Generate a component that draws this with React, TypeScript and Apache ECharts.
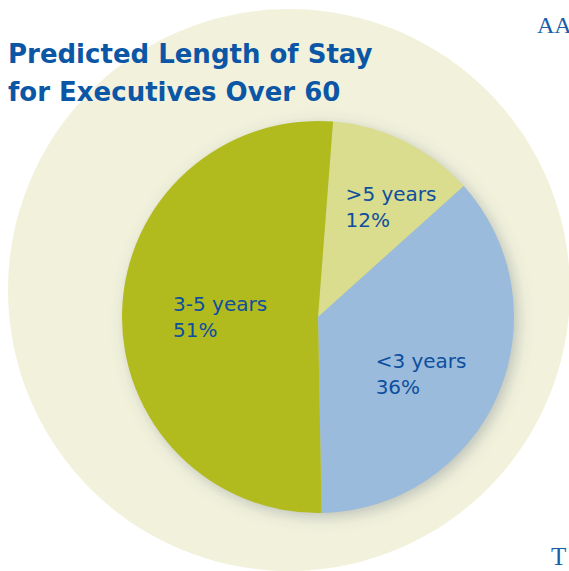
import React, { useEffect, useRef } from "react";
import * as echarts from "echarts";

const categories = [">5 years", "<3 years", "3-5 years"];
const values = [12, 36, 51];
const sliceColors = ["#d9dd8d", "#9abbdb", "#b2bb1e"];
const titleLines = ["Predicted Length of Stay", "for Executives Over 60"];
const labelOffsets = [
  [33, -19],
  [15, 17],
  [6, 3],
];

export default function App() {
  const ref = useRef<HTMLDivElement>(null);
  useEffect(() => {
    document.body.style.margin = "0";
    const chart = echarts.init(ref.current!, null, { renderer: "svg" });
    const cx = 318;
    const cy = 317;
    const r = 196;
    chart.setOption({
      animation: false,
      backgroundColor: "#ffffff",
      graphic: [
        {
          type: "circle",
          z: 0,
          shape: { cx: 289, cy: 290, r: 281 },
          style: { fill: "#f2f2dc" },
        },
        {
          type: "circle",
          z: 1,
          shape: { cx, cy, r: r - 1 },
          style: {
            fill: "#c8cfa0",
            shadowBlur: 16,
            shadowColor: "rgba(70,90,110,0.35)",
            shadowOffsetX: 4,
            shadowOffsetY: 4,
          },
        },
        {
          type: "text",
          z: 5,
          left: 537,
          top: 13,
          style: {
            text: "AA",
            fill: "#1a5ea8",
            font: '24px "Liberation Serif"',
          },
        },
        {
          type: "text",
          z: 5,
          left: 551,
          top: 544,
          style: {
            text: "T",
            fill: "#1a5ea8",
            font: '25px "Liberation Serif"',
          },
        },
      ],
      title: {
        text: titleLines.join("\n"),
        left: 8,
        top: 35,
        padding: 0,
        textStyle: {
          color: "#0b56a5",
          fontFamily: "DejaVu Sans",
          fontWeight: "bold",
          fontSize: 26,
          lineHeight: 38,
        },
      },
      series: [
        {
          type: "pie",
          center: [cx, cy],
          radius: [0, r],
          startAngle: 85.6,
          clockwise: true,
          silent: true,
          itemStyle: { borderWidth: 0 },
          label: {
            show: true,
            position: "inside",
            color: "#0d4f9e",
            formatter: (p: any) => `{a|${p.name}}\n{a|${p.value}%}`,
            rich: {
              a: {
                width: 100,
                align: "left",
                color: "#0d4f9e",
                fontFamily: "DejaVu Sans",
                fontSize: 20,
                lineHeight: 26,
              },
            },
          },
          labelLine: { show: false },
          data: categories.map((name, i) => ({
            name,
            value: values[i],
            itemStyle: { color: sliceColors[i] },
            label: { offset: labelOffsets[i] },
          })),
        },
      ],
    });
    return () => chart.dispose();
  }, []);
  return (
    <div
      ref={ref}
      style={{ width: 569, height: 571, position: "absolute", left: 0, top: 0 }}
    />
  );
}
